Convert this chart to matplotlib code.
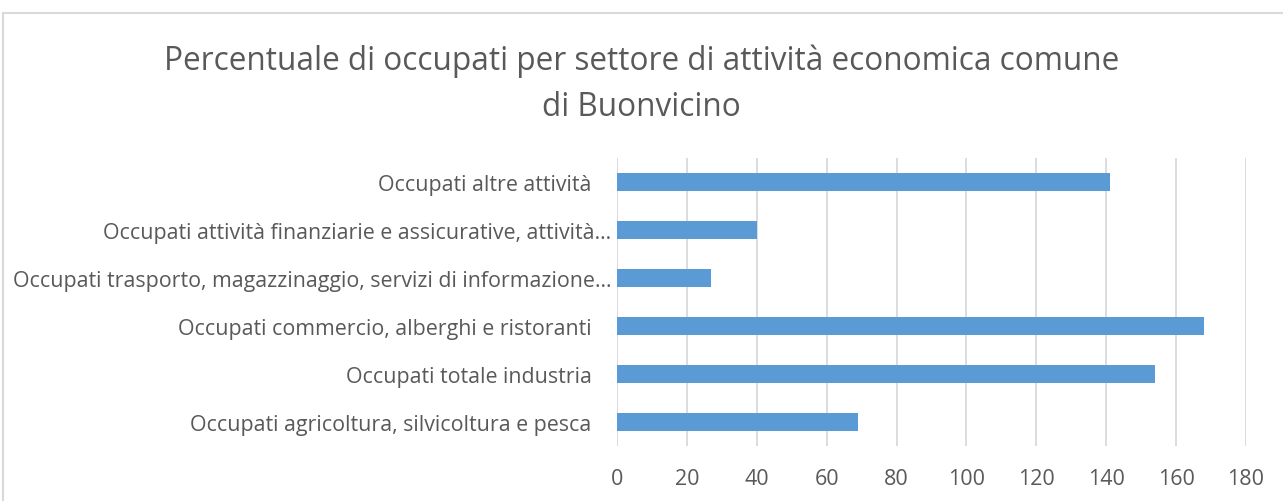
import matplotlib
matplotlib.use("Agg")
import matplotlib.pyplot as plt
from matplotlib.lines import Line2D
import matplotlib.transforms as mtransforms

categories = [
    "Occupati agricoltura, silvicoltura e pesca",
    "Occupati totale industria",
    "Occupati commercio, alberghi e ristoranti",
    "Occupati trasporto, magazzinaggio, servizi di informazione…",
    "Occupati attività finanziarie e assicurative, attività…",
    "Occupati altre attività",
]
values = [69, 154, 168, 27, 40, 141]
xticks = [0, 20, 40, 60, 80, 100, 120, 140, 160, 180]

plt.rcParams['font.family'] = ['Open Sans', 'DejaVu Sans']
txt = '#595959'
grid = '#d9d9d9'

fig = plt.figure(figsize=(12.83, 5.02), dpi=100)
ax = fig.add_axes([617/1283, 1-447/502, (1246-617)/1283, (447-159)/502])

ax.barh(range(len(categories)), values, height=0.36, color='#5b9bd5', zorder=3)
ax.set_xlim(0, 180)
ax.set_ylim(-0.5, len(categories)-0.5)
ax.set_xticks(xticks)
ax.set_yticks(range(len(categories)))
ax.set_yticklabels(categories)
ax.grid(axis='x', color=grid, linewidth=1.3, zorder=0)
ax.tick_params(axis='both', length=0, colors=txt)
ax.tick_params(axis='y', pad=4, labelsize=15.4)
ax.tick_params(axis='x', pad=16, labelsize=15.5)
for s in ax.spines.values():
    s.set_visible(False)

# labels without ellipsis sit further left
for lab in ax.get_yticklabels():
    if not lab.get_text().endswith("…"):
        lab.set_transform(lab.get_transform() + mtransforms.ScaledTranslation(-20/100, 0, fig.dpi_scale_trans))

fig.text(0.5, 1-61/502, "Percentuale di occupati per settore di attività economica comune",
         ha='center', va='center', fontsize=22.7, color=txt)
fig.text(0.5, 1-108/502, "di Buonvicino", ha='center', va='center', fontsize=22.7, color=txt)

fig.add_artist(Line2D([3/1283, 1], [1-14/502, 1-14/502], color=grid, linewidth=1.5, transform=fig.transFigure))
fig.add_artist(Line2D([3/1283, 3/1283], [0, 1-14/502], color=grid, linewidth=1.5, transform=fig.transFigure))

fig.savefig("out.png", dpi=100)
